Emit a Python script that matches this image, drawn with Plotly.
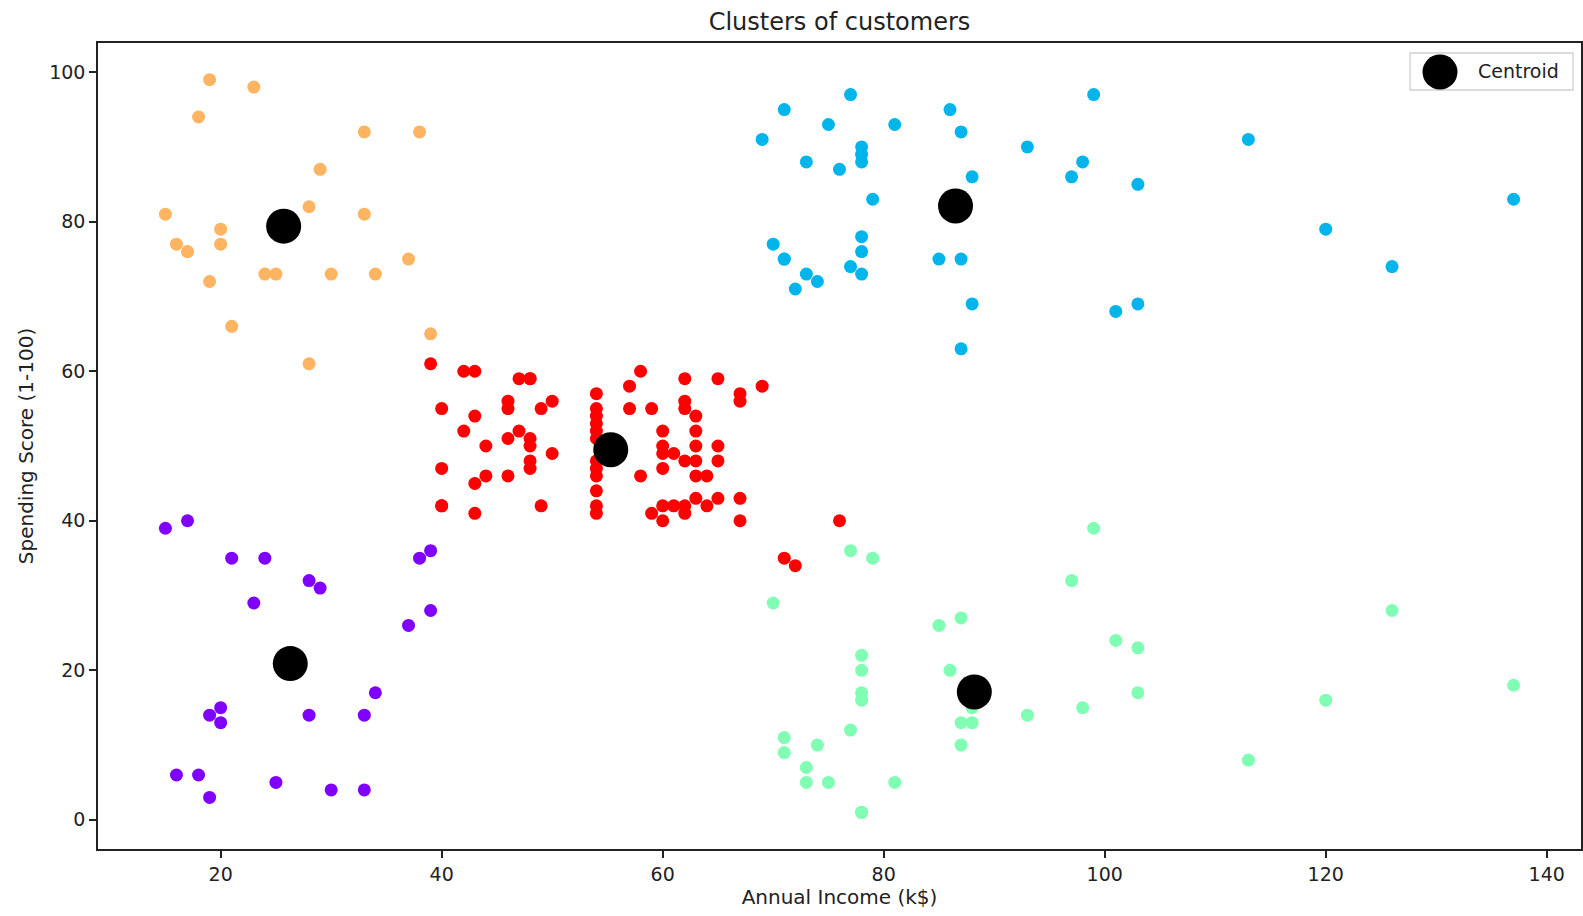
import plotly.graph_objects as go

# Cluster data: Annual Income (k$) and Spending Score (1-100)
cluster1_income = [15, 16, 17, 18, 19, 19, 20, 20, 21, 23, 24, 25, 28, 28, 29, 30, 33, 33, 34, 37, 38, 39, 39]
cluster1_score = [39, 6, 40, 6, 3, 14, 15, 13, 35, 29, 35, 5, 14, 32, 31, 4, 4, 14, 17, 26, 35, 36, 28]

cluster2_income = [69, 70, 71, 71, 71, 72, 73, 73, 74, 75, 76, 77, 77, 78, 78, 78, 78, 78, 78, 79,
                   81, 85, 86, 87, 87, 87, 88, 88, 93, 97, 98, 99, 101, 103, 103, 113, 120, 126, 137]
cluster2_score = [91, 77, 95, 75, 75, 71, 88, 73, 72, 93, 87, 97, 74, 90, 88, 76, 89, 78, 73, 83,
                  93, 75, 95, 63, 75, 92, 86, 69, 90, 86, 88, 97, 68, 85, 69, 91, 79, 74, 83]

cluster3_income = [70, 71, 71, 73, 73, 74, 75, 77, 77, 78, 78, 78, 78, 78, 78, 79, 81, 85, 86, 87,
                   87, 87, 88, 88, 93, 97, 98, 99, 101, 103, 103, 113, 120, 126, 137]
cluster3_score = [29, 11, 9, 5, 7, 10, 5, 12, 36, 22, 17, 20, 16, 1, 1, 35, 5, 26, 20, 27,
                  13, 10, 13, 15, 14, 32, 15, 39, 24, 17, 23, 8, 16, 28, 18]

cluster4_income = [15, 16, 17, 18, 19, 19, 20, 20, 21, 23, 24, 25, 28, 28, 29, 30, 33, 33, 34, 37, 38, 39]
cluster4_score = [81, 77, 76, 94, 72, 99, 77, 79, 66, 98, 73, 73, 82, 61, 87, 73, 92, 81, 73, 75, 92, 65]

cluster5_income = [39, 40, 40, 40, 40, 42, 42, 43, 43, 43, 43, 44, 44, 46, 46, 46, 46, 47, 47,
                   48, 48, 48, 48, 48, 48, 49, 49, 50, 50,
                   54, 54, 54, 54, 54, 54, 54, 54, 54, 54, 54, 54,
                   57, 57, 58, 58, 59, 59, 60, 60, 60, 60, 60, 60, 61, 61,
                   62, 62, 62, 62, 62, 62, 63, 63, 63, 63, 63, 63, 64, 64,
                   65, 65, 65, 65, 67, 67, 67, 67, 69, 71, 72, 76]
cluster5_score = [61, 55, 47, 42, 42, 52, 60, 54, 60, 45, 41, 50, 46, 51, 46, 56, 55, 52, 59,
                  51, 59, 50, 48, 59, 47, 55, 42, 49, 56,
                  47, 54, 53, 48, 52, 42, 51, 55, 41, 44, 57, 46,
                  58, 55, 60, 46, 55, 41, 49, 40, 42, 52, 47, 50, 42, 49,
                  41, 48, 59, 55, 56, 42, 50, 46, 43, 48, 52, 54, 42, 46,
                  48, 50, 43, 59, 43, 57, 56, 40, 58, 35, 34, 40]

centroid_income = [26.3, 86.5, 88.2, 25.7, 55.3]
centroid_score = [20.9, 82.1, 17.1, 79.4, 49.5]

cluster_colors = ["#8000ff", "#00b5eb", "#80ffb4", "#ffb462", "#ff0000"]

clusters = [
    (cluster1_income, cluster1_score),
    (cluster2_income, cluster2_score),
    (cluster3_income, cluster3_score),
    (cluster4_income, cluster4_score),
    (cluster5_income, cluster5_score),
]

FONT = "DejaVu Sans"

fig = go.Figure()
for (xs, ys), col in zip(clusters, cluster_colors):
    fig.add_trace(go.Scatter(
        x=xs, y=ys, mode="markers",
        marker=dict(size=13, color=col, line=dict(width=0)),
        showlegend=False, hoverinfo="x+y",
    ))

fig.add_trace(go.Scatter(
    x=centroid_income, y=centroid_score, mode="markers", name="Centroid",
    marker=dict(size=35, color="black", line=dict(width=0)),
    showlegend=False,
))

W, H = 1583, 916
L, R, T, B = 98, 2, 43, 67
pw, ph = W - L - R, H - T - B

def px(xp):
    return (xp - L) / pw

def py(yp):
    return (H - B - yp) / ph

# Custom legend (matplotlib-like, large marker)
shapes = [
    dict(type="rect", xref="paper", yref="paper",
         x0=px(1410), x1=px(1573), y0=py(90), y1=py(53),
         line=dict(color="#d0d0d0", width=1.3), fillcolor="rgba(255,255,255,0.8)", layer="above"),
    dict(type="circle", xref="paper", yref="paper",
         xsizemode="pixel", ysizemode="pixel",
         xanchor=px(1440), yanchor=py(72),
         x0=-17.5, x1=17.5, y0=-17.5, y1=17.5,
         line=dict(width=0), fillcolor="black", layer="above"),
]
annotations = [
    dict(text="Centroid", xref="paper", yref="paper", x=px(1476), y=py(71),
         xanchor="left", yanchor="middle", showarrow=False,
         font=dict(family=FONT, size=19, color="#222")),
]

fig.update_layout(
    template="none",
    width=W, height=H,
    margin=dict(l=L, r=R, t=T, b=B, pad=0, autoexpand=False),
    paper_bgcolor="white", plot_bgcolor="white",
    font=dict(family=FONT, size=19, color="#222"),
    title=dict(text="Clusters of customers", xref="paper", x=0.5, xanchor="center",
               y=1 - 30 / H, yanchor="bottom", yref="container",
               font=dict(family=FONT, size=24, color="#222")),
    shapes=shapes, annotations=annotations,
    showlegend=False,
)

axis_common = dict(
    automargin=False,
    showgrid=False, zeroline=False, showline=True, mirror=True,
    linecolor="#222", linewidth=1.6,
    ticks="outside", ticklen=7, tickwidth=1.6, tickcolor="#222",
    tickfont=dict(family=FONT, size=19, color="#222"),
)

fig.update_xaxes(range=[8.9, 143.1], tickvals=[20, 40, 60, 80, 100, 120, 140],
                 title=dict(text="Annual Income (k$)", standoff=6,
                            font=dict(family=FONT, size=20, color="#222")),
                 **axis_common)
fig.update_yaxes(range=[-3.9, 103.9], tickvals=[0, 20, 40, 60, 80, 100],
                 title=dict(text="Spending Score (1-100)", standoff=10,
                            font=dict(family=FONT, size=20, color="#222")),
                 **axis_common)

fig.write_html(
    "out.html",
    config={"displayModeBar": False},
    post_script="document.body.style.margin='0';document.body.style.overflow='hidden';",
)
